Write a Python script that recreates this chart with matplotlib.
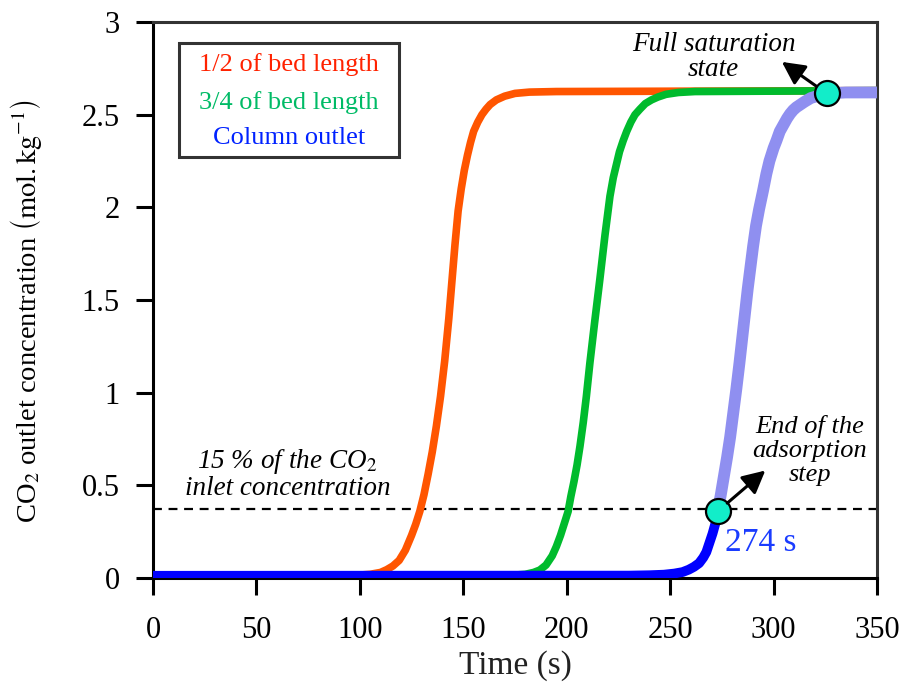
import matplotlib
matplotlib.use("Agg")
import matplotlib.pyplot as plt
from matplotlib.patches import Rectangle

plt.rcParams["font.family"] = "serif"
plt.rcParams["font.serif"] = ["Liberation Serif", "DejaVu Serif"]
plt.rcParams["mathtext.fontset"] = "stix"

# --- data (time in s, concentration in mol/kg) ---
half_t = [0, 100, 105, 110, 113, 116, 119, 122, 125, 127, 129, 131, 133, 135, 137, 139, 141, 143,
          144.5, 146, 147.5, 149, 150.5, 152, 153.5, 155, 157, 159, 161, 163, 166, 170, 175, 182, 195, 350]
half_c = [0.015, 0.016, 0.02, 0.03, 0.045, 0.065, 0.095, 0.15, 0.23, 0.29, 0.36, 0.45, 0.56, 0.68,
          0.82, 0.98, 1.17, 1.4, 1.6, 1.8, 1.98, 2.1, 2.2, 2.28, 2.35, 2.41, 2.46, 2.5, 2.53, 2.555,
          2.58, 2.6, 2.615, 2.622, 2.625, 2.63]

three_q_t = [0, 175, 180, 184, 187, 190, 193, 195, 197, 199, 200.7, 202, 203.5, 205, 206.4, 208,
             209.5, 211.2, 213.5, 216, 218.5, 220.9, 222.5, 224, 225.5, 227.3, 229, 231, 233, 235.4,
             238, 241, 244, 248, 254, 262, 350]
three_q_c = [0.015, 0.016, 0.02, 0.03, 0.043, 0.07, 0.12, 0.17, 0.23, 0.3, 0.36, 0.44, 0.52, 0.61,
             0.71, 0.84, 0.98, 1.16, 1.38, 1.61, 1.85, 2.06, 2.16, 2.23, 2.3, 2.36, 2.41, 2.46, 2.5,
             2.53, 2.56, 2.58, 2.595, 2.61, 2.62, 2.625, 2.63]

# column outlet, before and after the end of the adsorption step
out_t = [0, 230, 240, 247, 252, 256, 259, 261.5, 264, 266, 267.5, 269, 270.5, 272, 273]
out_c = [0.012, 0.013, 0.015, 0.018, 0.024, 0.032, 0.045, 0.06, 0.08, 0.11, 0.14, 0.19, 0.24, 0.3, 0.36]
after_t = [273, 274.5, 276, 277.5, 279, 280.5, 282, 283.5, 285.3, 287.5, 290.1, 291.5, 293, 294.9,
           296.5, 298, 300, 301.4, 303, 305, 306.5, 308, 309.5, 311, 313, 315, 318, 321, 325.6, 335, 350]
after_c = [0.36, 0.45, 0.55, 0.65, 0.76, 0.89, 1.02, 1.16, 1.34, 1.56, 1.79, 1.9, 1.99, 2.09, 2.18,
           2.25, 2.32, 2.36, 2.41, 2.45, 2.48, 2.505, 2.525, 2.54, 2.555, 2.57, 2.59, 2.6, 2.615,
           2.62, 2.62]

threshold = 0.37
end_point = (273, 0.36)
sat_point = (325.6, 2.615)

legend_labels = ["1/2 of bed length", "3/4 of bed length", "Column outlet"]
legend_colors = ["#ff2200", "#00bb66", "#0022ff"]

fig = plt.figure(figsize=(9.02, 6.89), dpi=100)
ax = fig.add_axes([0.1696, 0.1611, 0.8027, 0.8069])

style = dict(solid_capstyle="butt", solid_joinstyle="round")
ax.plot(half_t, half_c, color="#ff5500", lw=5.5, zorder=3, **style)
ax.plot(three_q_t, three_q_c, color="#00bb2d", lw=5.5, zorder=3, **style)
ax.plot(after_t, after_c, color="#8f8ff0", lw=8.5, zorder=4, **style)
ax.plot(out_t, out_c, color="#0000ff", lw=7, zorder=5, **style)

ax.plot([0, 350], [threshold, threshold], color="black", lw=1.6,
        dashes=(4, 3), zorder=2)

ax.plot(*end_point, "o", ms=18, mfc="#12edc9", mec="black", mew=1.6, zorder=7)
ax.plot(*sat_point, "o", ms=18, mfc="#12edc9", mec="black", mew=1.6, zorder=7)

arrow = dict(arrowstyle="-|>,head_length=0.55,head_width=0.28", color="black", lw=2.2,
             shrinkA=9, shrinkB=0, mutation_scale=25)
ax.annotate("", xy=(304, 2.785), xytext=sat_point, arrowprops=arrow, zorder=8)
ax.annotate("", xy=(296, 0.58), xytext=end_point, arrowprops=arrow, zorder=8)

ax.text(271, 2.81, "Full saturation\nstate", ha="center", va="center",
        fontsize=19.5, style="italic", linespacing=0.98)
ax.text(317.5, 0.69, "End of the\nadsorption\nstep", ha="center", va="center",
        fontsize=19, style="italic", linespacing=1.12)
ax.text(65, 0.56, "15 % of the CO$_2$\ninlet concentration", ha="center",
        va="center", fontsize=19.5, style="italic", linespacing=0.98)
ax.text(276.5, 0.19, "274 s", ha="left", va="center", fontsize=24,
        color="#1a3cff")

# legend: framed box with centred coloured labels
ax.add_patch(Rectangle((0.036, 0.757), 0.304, 0.205, transform=ax.transAxes,
                       fc="white", ec="#333333", lw=2.2, zorder=9))
for lab, c, yy in zip(legend_labels, legend_colors, [0.924, 0.855, 0.792]):
    ax.text(0.188, yy, lab, transform=ax.transAxes, ha="center", va="center",
            fontsize=19, color=c, zorder=10)

ax.set_xlim(0, 350)
ax.set_ylim(0, 3)
ax.set_xticks([0, 50, 100, 150, 200, 250, 300, 350])
ax.set_yticks([0, 0.5, 1, 1.5, 2, 2.5, 3])
ax.set_yticklabels(["0", "0.5", "1", "1.5", "2", "2.5", "3"])
ax.tick_params(direction="out", length=12, width=2.2, labelsize=22)
ax.tick_params(axis="x", pad=15)
ax.tick_params(axis="y", pad=12)
for s in ax.spines.values():
    s.set_linewidth(2.2)
ax.spines["right"].set_color("#333333")
ax.spines["top"].set_color("#333333")

ax.set_xlabel("Time (s)", fontsize=24, color="#222222", labelpad=4)
ax.set_ylabel(r"CO$_2$ outlet concentration $\left(\mathrm{mol{.}kg^{-1}}\right)$",
              fontsize=20.5)
ax.yaxis.set_label_coords(-0.15, 0.48)

fig.savefig("out.png", dpi=100)
